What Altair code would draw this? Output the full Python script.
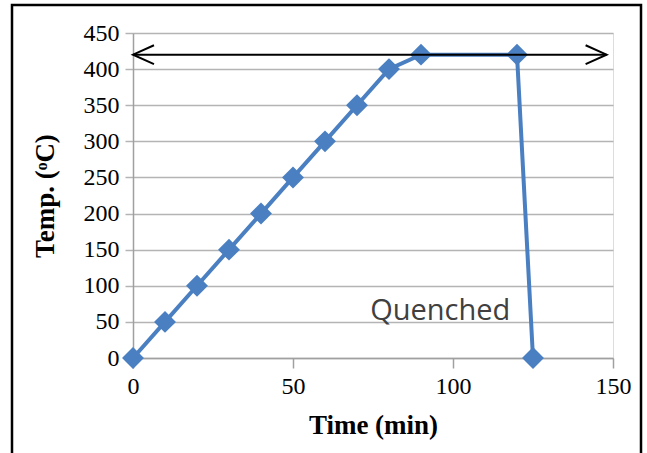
import altair as alt
import pandas as pd

time_min = [0, 10, 20, 30, 40, 50, 60, 70, 80, 90, 120, 125]
temp_c = [0, 50, 100, 150, 200, 250, 300, 350, 400, 420, 420, 0]
arrow_x = [0, 148]
arrow_y = [420, 420]
label_text = ["Quenched"]
label_x = [96]
label_y = [65]

df = pd.DataFrame({"t": time_min, "T": temp_c})
arr = pd.DataFrame({"t": arrow_x, "T": arrow_y})
heads = pd.DataFrame({"t": arrow_x, "T": arrow_y, "side": ["L", "R"]})
lab = pd.DataFrame({"t": label_x, "T": label_y, "txt": label_text})

xs = alt.Scale(domain=[0, 150], nice=False)
ys = alt.Scale(domain=[0, 450], nice=False)

xax = alt.Axis(values=[0, 50, 100, 150], grid=False, title="Time (min)",
               labelFont="Liberation Serif", labelFontSize=24, labelColor="black",
               titleFont="Liberation Serif", titleFontSize=27, titleFontWeight="bold",
               titleColor="black", domainColor="#a0a0a0", domainWidth=1.5,
               tickColor="#a0a0a0", tickWidth=1.5, tickSize=10, labelPadding=6,
               titlePadding=14, labelOverlap=False, labelFlush=False)
yax = alt.Axis(values=list(range(0, 451, 50)), grid=True, gridColor="#b4b4b4", gridWidth=1.5,
               title="Temp. (ᵒC)",
               labelFont="Liberation Serif", labelFontSize=24, labelColor="black",
               titleFont="Liberation Serif", titleFontSize=27, titleFontWeight="bold",
               titleColor="black", domainColor="#a0a0a0", domainWidth=1.5,
               tickColor="#b4b4b4", tickWidth=1.5, tickSize=8, labelPadding=6,
               titlePadding=24, labelOverlap=False, labelFlush=False)

X = alt.X("t:Q", scale=xs, axis=xax)
Y = alt.Y("T:Q", scale=ys, axis=yax)

base = alt.Chart(df)
line = base.mark_line(color="#4a7fc1", strokeWidth=4).encode(x=X, y=Y)
pts = base.mark_point(shape="diamond", filled=True, color="#4a7fc1", size=480, opacity=1).encode(x=X, y=Y)

arrow = alt.Chart(arr).mark_line(color="black", strokeWidth=2).encode(x=X, y=Y)
lhead = alt.Chart(heads[heads.side == "L"]).mark_point(
    shape="M1,-0.9 L-1,0 L1,0.9", filled=False, color="black", strokeWidth=2, size=440, opacity=1
).encode(x=X, y=Y, xOffset=alt.value(10.5))
rhead = alt.Chart(heads[heads.side == "R"]).mark_point(
    shape="M-1,-0.9 L1,0 L-1,0.9", filled=False, color="black", strokeWidth=2, size=440, opacity=1
).encode(x=X, y=Y, xOffset=alt.value(-10.5))

text = alt.Chart(lab).mark_text(font="Open Sans", fontSize=29, color="#404040").encode(
    x=X, y=Y, text="txt:N")

border = alt.Chart(lab).mark_rect(fill=None, stroke="black", strokeWidth=2.5).encode(
    x=alt.value(-121), x2=alt.value(508), y=alt.value(-28), y2=alt.value(440))

chart = alt.layer(line, pts, arrow, lhead, rhead, text, border).properties(
    width=480, height=325,
    autosize=alt.AutoSizeParams(type="none"),
    padding={"left": 133, "top": 33, "right": 34, "bottom": 95},
).configure_view(stroke=None).configure(background="white")

chart.save("out.html", embed_options={"renderer": "svg", "actions": False})
